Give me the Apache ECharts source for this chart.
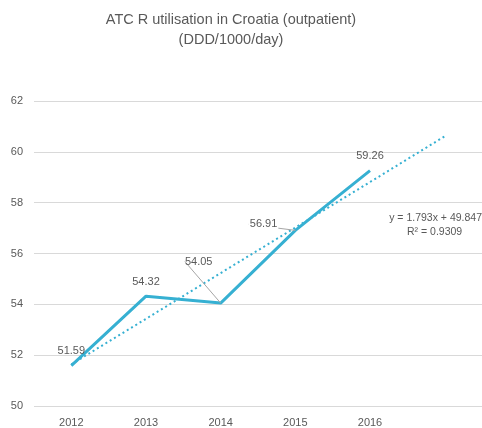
<!DOCTYPE html>
<html><head><meta charset="utf-8">
<script src="https://cdn.jsdelivr.net/npm/echarts@6/dist/echarts.min.js"></script>
<style>html,body{margin:0;padding:0;background:#fff}#c{width:482px;height:428px}</style>
</head><body><div id="c"></div>
<script>
var titleLines = ['ATC R utilisation in Croatia (outpatient)', '(DDD/1000/day)'];
var categories = ['2012', '2013', '2014', '2015', '2016', ''];
var utilisation = [51.59, 54.32, 54.05, 56.91, 59.26];
var trendValues = [51.64, 53.43, 55.23, 57.02, 58.81, 60.61];
var yTicks = [50, 52, 54, 56, 58, 60, 62];
var equationLines = ['y = 1.793x + 49.847', 'R\u00b2 = 0.9309'];

var FONT = 'Liberation Sans';
var TXT = '#595959';
var LINE = '#36B0D2';

var utilData = utilisation.map(function (v, i) {
  var d = {value: v, labelLine: {show: i === 2 || i === 3}};
  if (i === 3) d.label = {position: 'left', distance: 4, backgroundColor: '#fff', padding: [1, 1, 1, 1]};
  return d;
});

var chart = echarts.init(document.getElementById('c'), null, {renderer: 'canvas'});
chart.setOption({
  animation: false,
  backgroundColor: '#fff',
  grid: {left: 34, right: 0, top: 101, bottom: 20},
  xAxis: {
    type: 'category', data: categories, boundaryGap: true,
    axisLine: {show: false}, axisTick: {show: false},
    axisLabel: {fontFamily: FONT, fontSize: 11, color: TXT, margin: 11}
  },
  yAxis: {
    type: 'value', min: yTicks[0], max: yTicks[yTicks.length - 1], interval: 2,
    axisLine: {show: false}, axisTick: {show: false},
    axisLabel: {fontFamily: FONT, fontSize: 11, color: TXT, margin: 11},
    splitLine: {lineStyle: {color: '#D9D9D9', width: 1}}
  },
  series: [{
    type: 'line', data: trendValues, symbol: 'none', silent: true,
    lineStyle: {color: LINE, width: 2, type: [2, 3]}, z: 1
  }, {
    type: 'line', data: utilData, symbol: 'circle', symbolSize: 0, showSymbol: true,
    itemStyle: {color: LINE},
    lineStyle: {color: LINE, width: 3}, z: 2,
    label: {show: true, position: 'top', distance: 9, fontFamily: FONT, fontSize: 11, color: TXT,
      formatter: function (p) { return p.value.toFixed(2); }},
    labelLine: {show: false, lineStyle: {color: '#A6A6A6', width: 1}},
    labelLayout: function (p) {
      if (p.dataIndex === 2) return {dx: -22, dy: -27};
      if (p.dataIndex === 3) return {dx: -13, dy: -6};
      return {};
    }
  }],
  graphic: [{
    type: 'text', x: 231, y: 12,
    style: {text: titleLines[0], fontFamily: FONT, fontSize: 14.5, fill: TXT, textAlign: 'center'}
  }, {
    type: 'text', x: 231, y: 32,
    style: {text: titleLines[1], fontFamily: FONT, fontSize: 14.5, fill: TXT, textAlign: 'center'}
  }, {
    type: 'text', right: 0, top: 213,
    style: {text: equationLines[0], fontFamily: FONT, fontSize: 10.5, fill: TXT}
  }, {
    type: 'text', left: 407, top: 227,
    style: {text: equationLines[1], fontFamily: FONT, fontSize: 10.5, fill: TXT}
  }]
});
</script></body></html>
